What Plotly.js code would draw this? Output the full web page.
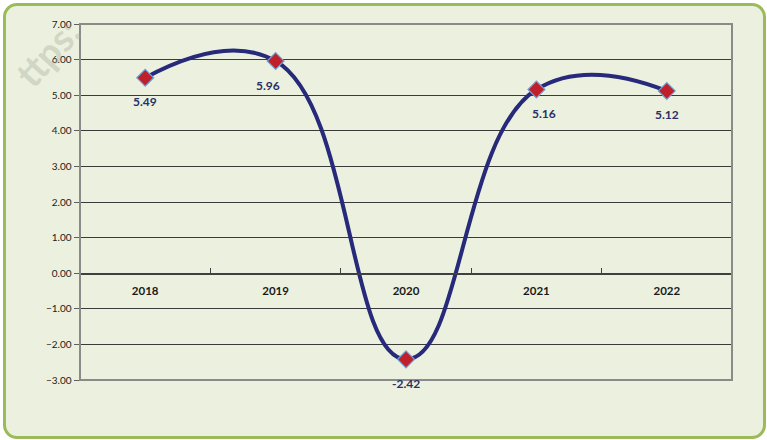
<!DOCTYPE html>
<html>
<head>
<meta charset="utf-8">
<script src="https://cdn.plot.ly/plotly-3.0.1.min.js"></script>
<style>
  html, body { margin: 0; padding: 0; background: #ffffff; }
  #frame {
    position: absolute; left: 3px; top: 3px; width: 757px; height: 430px;
    border: 3px solid #9BBB59; border-radius: 14px; background: #EBF1DE;
  }
  #chart { position: absolute; left: 0; top: 0; width: 767px; height: 440px; }
</style>
</head>
<body>
<div id="frame"></div>
<div id="chart"></div>
<script>
const years = ['2018', '2019', '2020', '2021', '2022'];
const growth = [5.49, 5.96, -2.42, 5.16, 5.12];
const growthLabels = ['5.49', '5.96', '-2.42', '5.16', '5.12'];
const yTickValues = [-3, -2, -1, 0, 1, 2, 3, 4, 5, 6, 7];

// style only: small horizontal nudges of the value labels
const labelNudgeX = [0, -8, 0, 8, 0];

const trace = {
  x: years,
  y: growth,
  type: 'scatter',
  mode: 'lines+markers',
  line: { color: '#27297A', width: 4, shape: 'spline', smoothing: 1.3 },
  marker: { symbol: 'diamond', size: 13, color: '#C0202A', line: { color: '#6FA0D8', width: 1.2 } },
  cliponaxis: false,
  hoverinfo: 'skip'
};

// category axis: annotations take the category index
const valueAnnotations = years.map((yr, i) => ({
  x: i, y: growth[i], xref: 'x', yref: 'y',
  text: growthLabels[i], showarrow: false,
  yshift: -24, xshift: labelNudgeX[i],
  font: { family: 'Lato, "Open Sans", sans-serif', size: 12, color: '#27306A', weight: 'bold' }
}));

const layout = {
  width: 767, height: 440,
  margin: { l: 80, r: 35, t: 24, b: 60 },
  paper_bgcolor: 'rgba(0,0,0,0)',
  plot_bgcolor: 'rgba(0,0,0,0)',
  showlegend: false,
  font: { family: 'Lato, "Open Sans", sans-serif', color: '#1a1a1a' },
  xaxis: {
    type: 'category',
    anchor: 'free', position: 0.3,
    tickson: 'boundaries',
    ticks: 'inside', ticklen: 5, tickcolor: '#404040',
    showline: true, linecolor: '#404040', linewidth: 1.5,
    showgrid: false, zeroline: false,
    ticklabelstandoff: 6,
    tickfont: { size: 11.5, weight: 'bold', color: '#1a1a1a' },
    range: [-0.5, 4.5]
  },
  yaxis: {
    range: [-3, 7],
    tickvals: yTickValues,
    tickformat: '.2f',
    ticks: 'outside', ticklen: 5, tickcolor: '#606060',
    showline: true, linecolor: '#8a8a8a', linewidth: 1.5,
    showgrid: true, gridcolor: '#3a3a3a', gridwidth: 1,
    zeroline: false,
    tickfont: { size: 10, color: '#1a1a1a' }
  },
  shapes: [
    { type: 'rect', xref: 'paper', yref: 'paper', x0: 0, x1: 1, y0: 0, y1: 1,
      line: { color: '#8a8a8a', width: 2 }, fillcolor: 'rgba(0,0,0,0)', layer: 'above' }
  ],
  annotations: valueAnnotations.concat([
    { xref: 'paper', yref: 'paper', x: -0.05, y: 0.92, xanchor: 'center', yanchor: 'middle',
      text: 'ttps:', showarrow: false, textangle: -48,
      font: { size: 38, color: 'rgba(160,165,150,0.35)', weight: 'bold', family: 'Lato, sans-serif' } }
  ])
};

Plotly.newPlot('chart', [trace], layout, { displayModeBar: false, staticPlot: true });
</script>
</body>
</html>
